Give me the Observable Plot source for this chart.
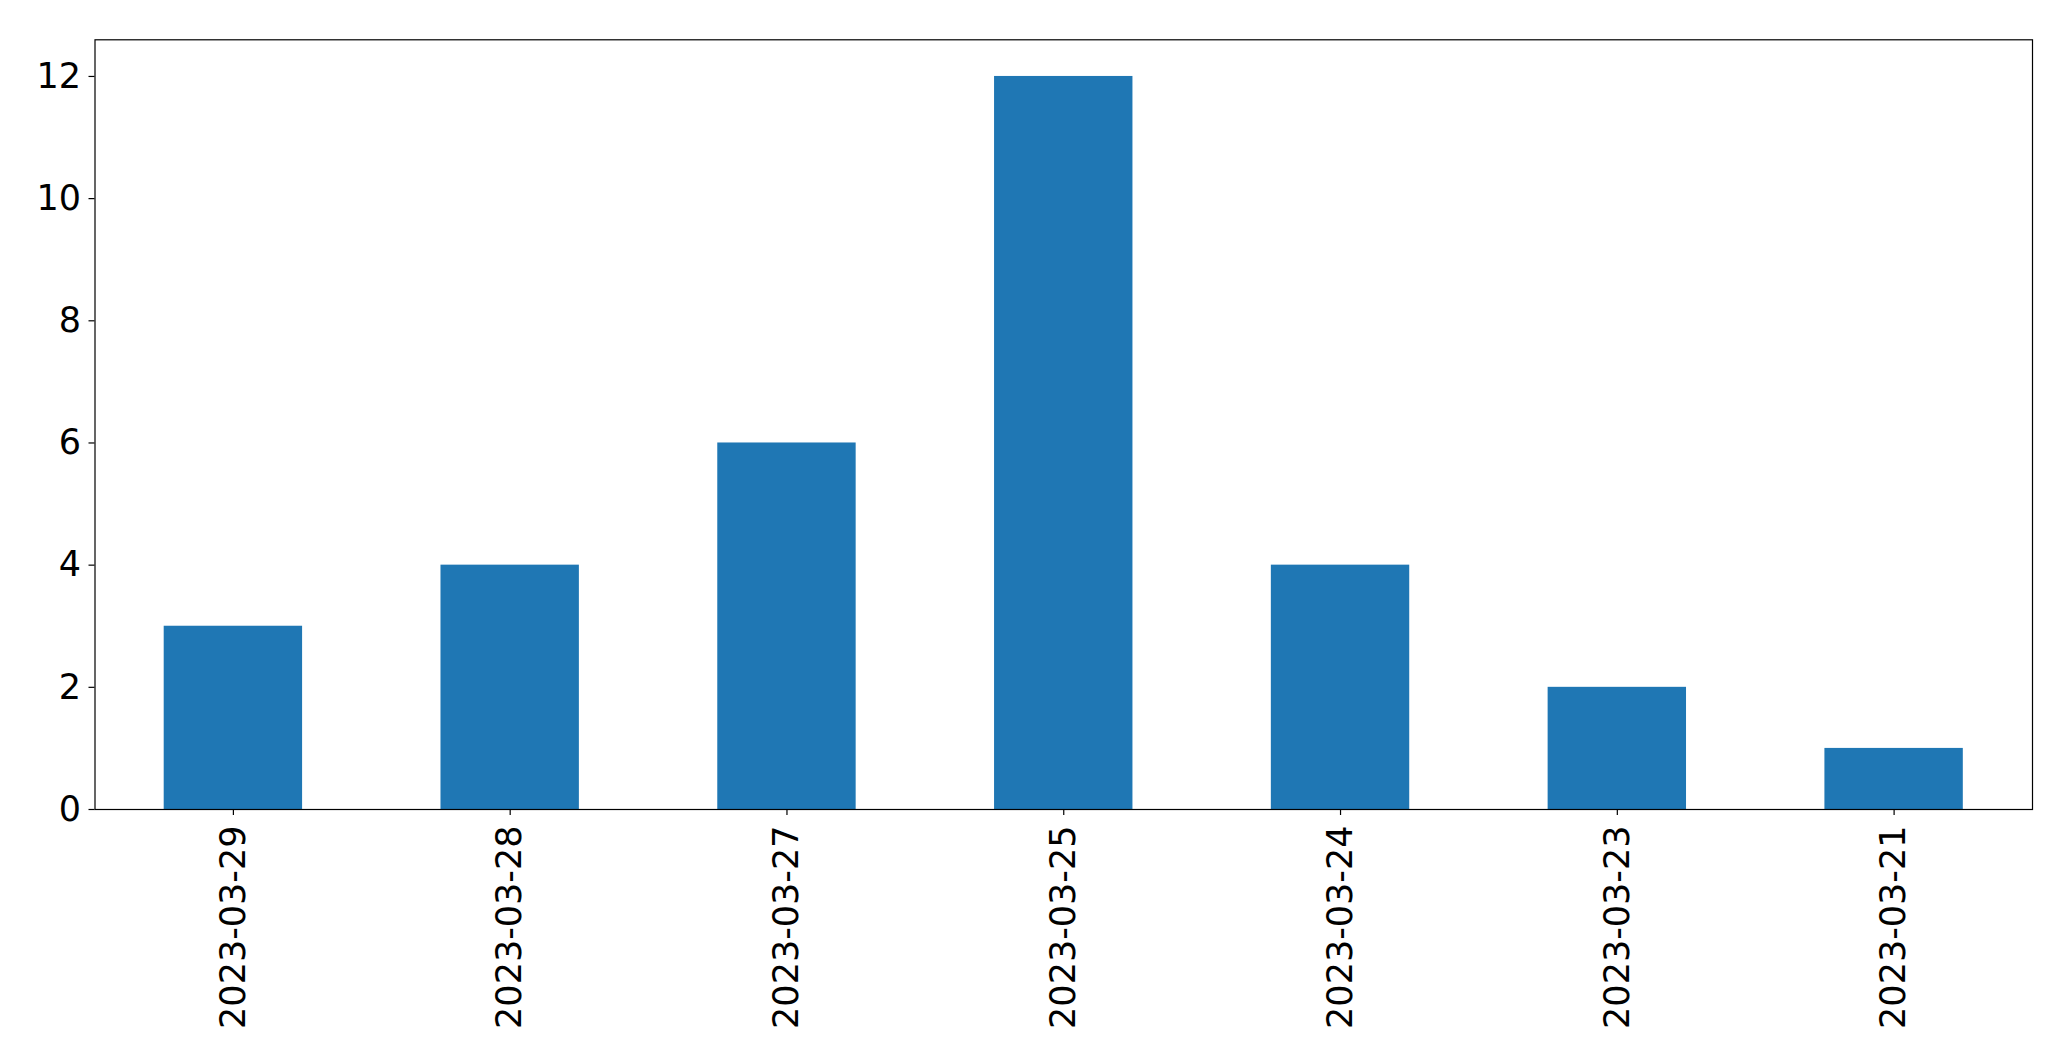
<!DOCTYPE html>
<html>
<head>
<meta charset="utf-8">
<script src="https://cdn.jsdelivr.net/npm/d3@7"></script>
<script src="https://cdn.jsdelivr.net/npm/@observablehq/plot@0.6"></script>
<style>
  html, body { margin: 0; padding: 0; background: #fff; }
  svg { display: block; }
</style>
</head>
<body>
<div id="chart"></div>
<script>
const dates = ["2023-03-29", "2023-03-28", "2023-03-27", "2023-03-25", "2023-03-24", "2023-03-23", "2023-03-21"];
const counts = [3, 4, 6, 12, 4, 2, 1];
const yTicks = [0, 2, 4, 6, 8, 10, 12];

const data = dates.map((d, i) => ({date: d, count: counts[i]}));

const chart = Plot.plot({
  width: 2071,
  height: 1061,
  marginLeft: 94.5,
  marginRight: 39,
  marginTop: 39.3,
  marginBottom: 252,
  style: {fontFamily: "DejaVu Sans", fontSize: "35px", color: "#000", background: "#fff"},
  x: {type: "band", domain: dates, paddingInner: 0.5, paddingOuter: 0.25, round: false, label: null},
  y: {domain: [0, 12.6], label: null},
  marks: [
    Plot.barY(data, {x: "date", y: "count", fill: "#1f77b4"}),
    Plot.axisY({ticks: yTicks, tickSize: 6, tickPadding: 8, label: null, fontSize: 35, strokeWidth: 1.2}),
    Plot.axisX({tickSize: 6, tickPadding: 10, tickRotate: -90, label: null, fontSize: 35, strokeWidth: 1.2}),
    Plot.frame({stroke: "#000", strokeWidth: 1.2})
  ]
});
document.getElementById("chart").appendChild(chart);
</script>
</body>
</html>
